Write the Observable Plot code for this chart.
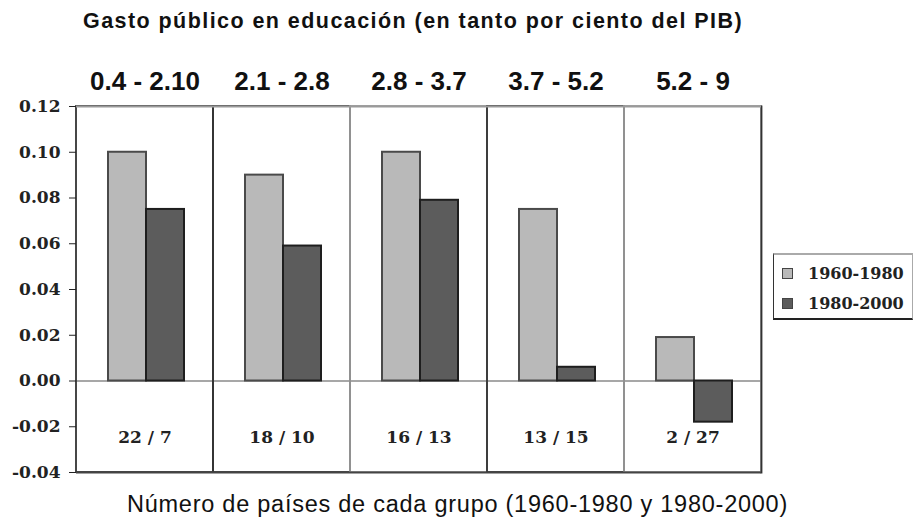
<!DOCTYPE html>
<html><head><meta charset="utf-8">
<script src="https://cdn.jsdelivr.net/npm/d3@7"></script>
<script src="https://cdn.jsdelivr.net/npm/@observablehq/plot@0.6"></script>
<style>
body{margin:0;background:#fff;}
#wrap{position:relative;width:914px;height:520px;overflow:hidden;background:#fff}
#title{position:absolute;left:83px;top:9px;font:bold 21.5px "Liberation Sans",Arial,sans-serif;color:#111;white-space:nowrap}
#chart{position:absolute;left:0;top:40px}
#caption{position:absolute;left:127px;top:491px;font:23.5px "Liberation Sans",Arial,sans-serif;color:#111;white-space:nowrap}
#legend{position:absolute;left:773px;top:253px;width:140px;height:67px;box-sizing:border-box;
  border-top:2px solid #aaa;border-left:1px solid #333;border-right:1px solid #aaa;border-bottom:2px solid #222;background:#fff;padding-top:3px}
#legend .row{height:30px;display:flex;align-items:center;padding-left:8px}
#legend .sw{display:inline-block;width:9px;height:9px;border:1px solid #444;margin-right:15px}
#legend .lab{font:bold 16px "DejaVu Serif",serif;color:#222;white-space:nowrap}
</style></head>
<body><div id="wrap">
<div id="title">Gasto público en educación (en tanto por ciento del PIB)</div>
<div id="chart"></div>
<div id="legend"></div>
<div id="caption">Número de países de cada grupo (1960-1980 y 1980-2000)</div>
</div>
<script>
const groups = ["0.4 - 2.10", "2.1 - 2.8", "2.8 - 3.7", "3.7 - 5.2", "5.2 - 9"];
const periods = ["1960-1980", "1980-2000"];
const values1960 = [0.100, 0.090, 0.100, 0.075, 0.019];
const values1980 = [0.075, 0.059, 0.079, 0.006, -0.018];
const counts = ["22 / 7", "18 / 10", "16 / 13", "13 / 15", "2 / 27"];
const yTicks = [-0.04, -0.02, 0.00, 0.02, 0.04, 0.06, 0.08, 0.10, 0.12];

const LIGHT = "#b9b9b9", DARK = "#5c5c5c";

const rows = groups.flatMap((g, i) => [
  {group: g, period: periods[0], value: values1960[i]},
  {group: g, period: periods[1], value: values1980[i]}
]);
const groupRows = groups.map((g, i) => ({group: g, count: counts[i], idx: i}));

const chart = Plot.plot({
  width: 914, height: 434,
  marginTop: 66, marginBottom: 2, marginLeft: 74, marginRight: 151,
  style: {background: "transparent", overflow: "visible"},
  fx: {domain: groups, padding: 0, axis: null, label: null},
  x: {domain: periods, paddingInner: 0, paddingOuter: 0.77, align: 0.53, axis: null},
  y: {domain: [yTicks[0], yTicks[yTicks.length - 1]], axis: null},
  color: {type: "identity"},
  marks: [
    Plot.ruleY([0], {stroke: "#8a8a8a", strokeWidth: 1.6}),
    Plot.rect(groupRows, {fx: "group", y1: yTicks[0], y2: yTicks[yTicks.length - 1], fill: "none",
      stroke: d => (d.idx % 2 === 0 && d.idx > 0) ? "#9a9a9a" : "#333", strokeWidth: 1.8}),
    Plot.frame({anchor: "right", facetAnchor: "right", stroke: "#333", strokeWidth: 1.8}),
    Plot.ruleY([yTicks[yTicks.length - 1]], {stroke: "#9a9a9a", strokeWidth: 2}),
    Plot.ruleY([yTicks[0]], {stroke: "#444", strokeWidth: 2}),
    Plot.barY(rows, {filter: d => d.period === periods[0], fx: "group", x: "period", y: "value",
      fill: LIGHT, stroke: "#4a4a4a", strokeWidth: 2, inset: 0}),
    Plot.barY(rows, {filter: d => d.period === periods[1], fx: "group", x: "period", y: "value",
      fill: DARK, stroke: "#1e1e1e", strokeWidth: 2, inset: 0}),
    Plot.axisY({ticks: yTicks, tickFormat: d => d.toFixed(2), tickSize: 7, tickPadding: 9,
      fontSize: 17, fontWeight: "bold", fontFamily: "DejaVu Serif", color: "#222", label: null}),
    Plot.axisFx({anchor: "top", tickSize: 0, tickPadding: 17, fontSize: 26, fontWeight: "bold",
      fontFamily: "Liberation Sans", color: "#111", label: null}),
    Plot.text(groupRows, {fx: "group", text: "count", frameAnchor: "bottom", dy: -35, lineAnchor: "middle",
      fontSize: 17, fontWeight: "bold", fontFamily: "DejaVu Serif", fill: "#222"})
  ]
});
document.getElementById("chart").appendChild(chart);

const legend = document.getElementById("legend");
[LIGHT, DARK].forEach((c, i) => {
  const row = document.createElement("div");
  row.className = "row";
  row.innerHTML = `<span class="sw" style="background:${c}"></span><span class="lab">${periods[i]}</span>`;
  legend.appendChild(row);
});

function fitWidth(el, target) {
  const w = el.getBoundingClientRect().width;
  const n = el.textContent.length;
  el.style.letterSpacing = ((target - w) / n) + "px";
}
fitWidth(document.getElementById("title"), 660);
fitWidth(document.getElementById("caption"), 661);
</script>
</body></html>
